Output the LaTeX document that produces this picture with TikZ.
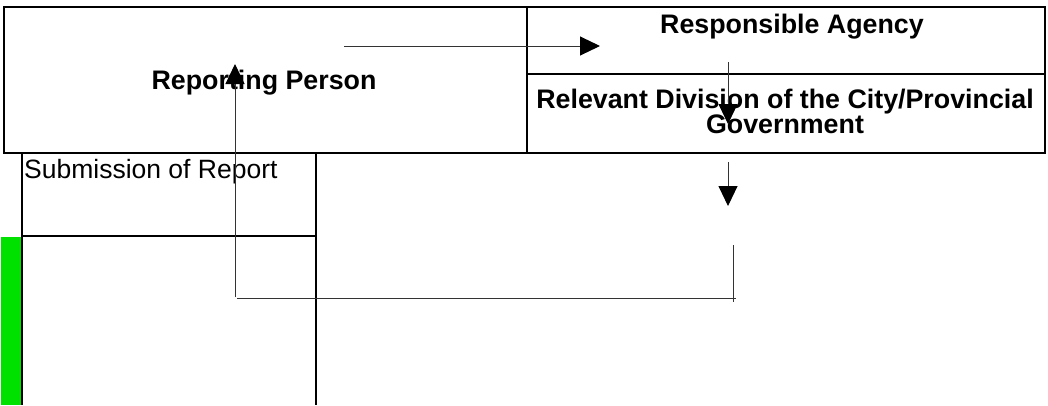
\documentclass[tikz,border=0pt]{standalone}
\usepackage{fontspec}
\setmainfont{Liberation Sans}
\usetikzlibrary{arrows.meta}
\definecolor{barg}{RGB}{0,225,0}
\begin{document}
\begin{tikzpicture}[x=1pt,y=-1pt,
  cell/.style={draw=black,line width=2.2pt},
  conn/.style={draw=black!80,line width=1pt},
  arr/.style={conn,-{Triangle[length=20pt,width=19pt,color=black]}},
  lbl/.style={font=\fontsize{26.8}{25}\selectfont\bfseries,align=center,inner sep=0pt},
  plainlbl/.style={font=\fontsize{26.5}{25}\selectfont,inner sep=0pt,text=black}]
\useasboundingbox (0,0) rectangle (1048,405);
% green bar
\fill[barg] (1,237) rectangle (21,405);
% top table
\draw[cell] (4,7) rectangle (1045,153);
\draw[cell] (527,7) -- (527,153);
\draw[cell] (527,74) -- (1045,74);
% lower left table
\draw[cell] (22,153) -- (22,405);
\draw[cell] (316,153) -- (316,405);
\draw[cell] (22,236) -- (316,236);
% texts
\node[lbl] (rp) at (264,83) {Reporting Person};
\node[lbl] (ra) at (792,27) {Responsible Agency};
\node[lbl] (rd) at (785,111) {Relevant Division of the City/Provincial\\Government};
\node[plainlbl,anchor=west] (sr) at (24,172) {Submission of Report};
% connector coordinates
\coordinate (h1) at (344,46);
\coordinate (h2) at (600,46);
\coordinate (d1a) at (728,62);
\coordinate (d1b) at (728,124);
\coordinate (d2a) at (728,162);
\coordinate (d2b) at (728,206);
\coordinate (ua) at (235,297);
\coordinate (ub) at (235,64);
\coordinate (b1) at (237,298);
\coordinate (b2) at (736,298);
\coordinate (v1) at (733,245);
\coordinate (v2) at (733,302);
% connectors
\draw[arr] (h1) -- (h2);
\draw[arr] (d1a) -- (d1b);
\draw[arr] (d2a) -- (d2b);
\draw[arr] (ua) -- (ub);
\draw[conn] (b1) -- (b2);
\draw[conn] (v1) -- (v2);
\end{tikzpicture}
\end{document}
